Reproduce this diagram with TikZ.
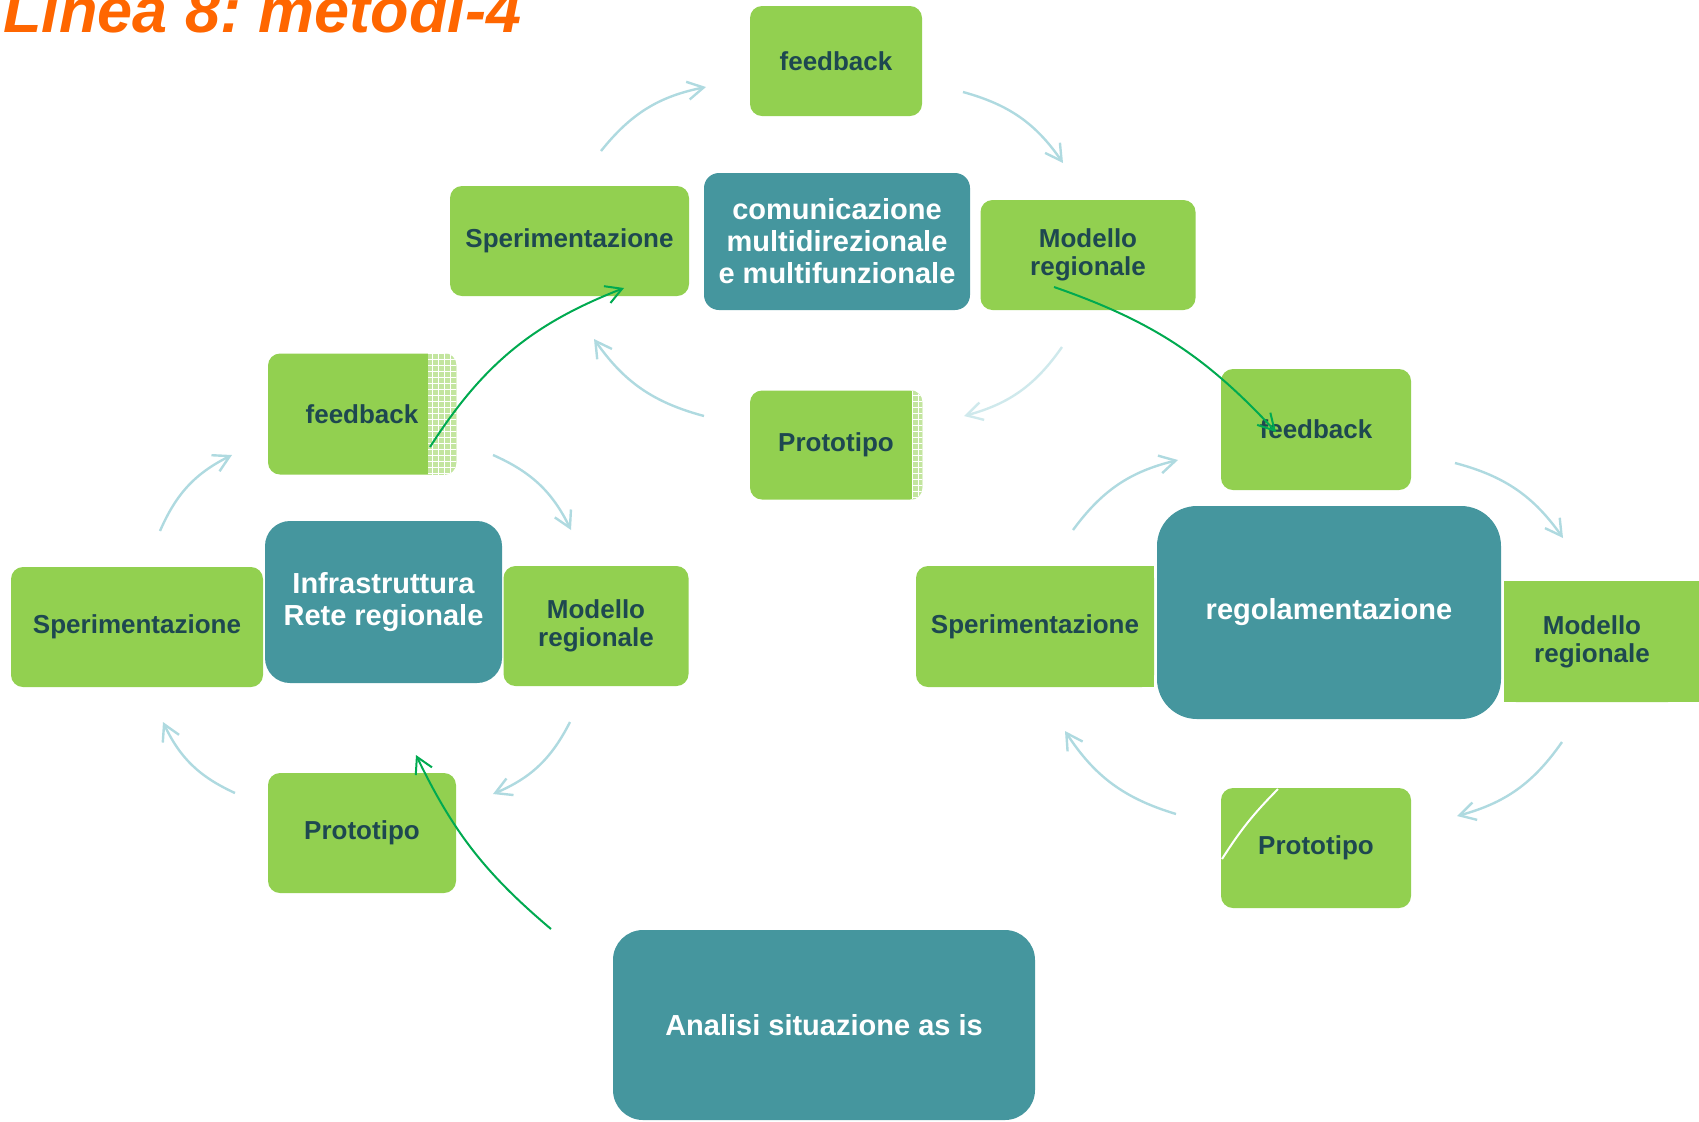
\documentclass[tikz,border=0pt]{standalone}
\usepackage{fontspec}
\setmainfont{Liberation Sans}
\usetikzlibrary{arrows.meta,patterns}
\definecolor{leafgreen}{RGB}{146,208,80}
\definecolor{hubteal}{RGB}{69,150,158}
\definecolor{darkslate}{RGB}{30,72,80}
\definecolor{paleblue}{RGB}{175,218,224}
\definecolor{linkgreen}{RGB}{0,170,80}
\definecolor{titleorange}{RGB}{255,102,0}

\tikzset{
  leaf/.style={fill=leafgreen, rounded corners=6pt, text=darkslate, align=center, inner sep=0pt,
    font=\fontsize{13}{14}\selectfont\bfseries},
  hub/.style={fill=hubteal, text=white, align=center, inner sep=0pt,
    font=\fontsize{14.5}{16}\selectfont\bfseries},
  cyclearrow/.style={draw=paleblue, line width=1.2pt, -{Straight Barb[length=8pt,width=9pt]}, bend left=20},
  linkarrow/.style={draw=linkgreen, line width=1pt, -{Straight Barb[length=8pt,width=9pt]}},
}

\begin{document}
\begin{tikzpicture}[x=0.5pt,y=-0.5pt]
    \useasboundingbox (0,0) rectangle (1699,1121);

    \node[anchor=base west, text=titleorange, font=\fontsize{31.5}{34}\selectfont\bfseries\itshape] (title) at (-4,32) {Linea 8:\ metodi-4};

    % top cycle
    \node[leaf, minimum width=86pt, minimum height=55pt] (fbT) at (836,61) {feedback};
    \node[leaf, minimum width=119.5pt, minimum height=55pt] (spT) at (569.5,241) {Sperimentazione};
    \node[hub, rounded corners=7.5pt, minimum width=133pt, minimum height=68.5pt] (comT) at (837,241.5) {comunicazione\\multidirezionale\\e multifunzionale};
    \node[leaf, minimum width=107.5pt, minimum height=55pt] (moT) at (1088,255) {Modello\\regionale};
    \node[leaf, minimum width=86pt, minimum height=54.5pt] (prT) at (836,445) {Prototipo};
    \begin{scope}
        \clip[rounded corners=6pt] (prT.north west) rectangle (prT.south east);
        \fill[leafgreen!55!white] (912,385) rectangle (925,505);
        \fill[pattern=grid, pattern color=white] (912,385) rectangle (925,505);
    \end{scope}

    % left cycle
    \node[leaf, minimum width=94pt, minimum height=60.5pt] (fbL) at (362,414) {feedback};
    \begin{scope}
        \clip[rounded corners=6pt] (fbL.north west) rectangle (fbL.south east);
        \fill[leafgreen!55!white] (428,350) rectangle (460,480);
        \fill[pattern=grid, pattern color=white] (428,350) rectangle (460,480);
    \end{scope}
    \node[leaf, minimum width=126pt, minimum height=60pt] (spL) at (137,627) {Sperimentazione};
    \node[hub, rounded corners=12.5pt, minimum width=118.5pt, minimum height=81pt] (infL) at (383.5,602) {Infrastruttura\\Rete regionale};
    \node[leaf, minimum width=92.5pt, minimum height=60pt] (moL) at (596,626) {Modello\\regionale};
    \node[leaf, minimum width=94pt, minimum height=60pt] (prL) at (362,833) {Prototipo};

    % right cycle
    \node[leaf, minimum width=95pt, minimum height=60.5pt] (fbR) at (1316,429.5) {feedback};
    \fill[leafgreen] (1100,566) rectangle (1154,687);
    \node[leaf, minimum width=119pt, minimum height=60.5pt] (spR) at (1035,626.5) {Sperimentazione};
    \node[hub, rounded corners=20pt, minimum width=172pt, minimum height=106.5pt] (regR) at (1329,612.5) {regolamentazione};
    \fill[leafgreen] (1504,581) rectangle (1720,702);
    \node[leaf, minimum width=88pt, minimum height=60.5pt] (moR) at (1592,641.5) {Modello\\regionale};
    \node[leaf, minimum width=95pt, minimum height=60pt] (prR) at (1316,848) {Prototipo};
    \coordinate (cutA) at (1278,789);
    \coordinate (cutB) at (1222,859);
    \draw[white, line width=1pt] (cutA) to[bend right=6] (cutB);

    % starting point
    \node[hub, rounded corners=15pt, minimum width=211pt, minimum height=95pt] (anB) at (824,1025) {Analisi situazione as is};

    % cycle arrows
    \coordinate (t1a) at (601,151);   \coordinate (t1b) at (706,87);
    \coordinate (t2a) at (963,92);    \coordinate (t2b) at (1063,163);
    \coordinate (t3a) at (1062,347);  \coordinate (t3b) at (964,416);
    \coordinate (t4a) at (704,416);   \coordinate (t4b) at (594,339);
    \coordinate (l1a) at (160,531);   \coordinate (l1b) at (232,455);
    \coordinate (l2a) at (493,455);   \coordinate (l2b) at (571,530);
    \coordinate (l3a) at (570,722);   \coordinate (l3b) at (493,794);
    \coordinate (l4a) at (235,793);   \coordinate (l4b) at (163,722);
    \coordinate (r1a) at (1073,530);  \coordinate (r1b) at (1178,460);
    \coordinate (r2a) at (1455,463);  \coordinate (r2b) at (1563,538);
    \coordinate (r3a) at (1562,742);  \coordinate (r3b) at (1457,816);
    \coordinate (r4a) at (1176,814);  \coordinate (r4b) at (1065,731);
    \foreach \c in {t1,t2,t4,l1,l2,l3,l4,r1,r2,r3,r4}
        \draw[cyclearrow] (\c a) to (\c b);
    \draw[cyclearrow, draw=paleblue!60] (t3a) to (t3b);

    % links between cycles
    \coordinate (fbLout) at (430,447);  \coordinate (spTin) at (624,288);
    \coordinate (moTout) at (1054,287); \coordinate (fbRin) at (1276,432);
    \coordinate (anBout) at (551,929);  \coordinate (prLin) at (416,755);
    \draw[linkarrow] (fbLout) to[bend left=18] (spTin);
    \draw[linkarrow] (moTout) to[bend left=14] (fbRin);
    \draw[linkarrow] (anBout) to[bend left=12] (prLin);
\end{tikzpicture}
\end{document}
